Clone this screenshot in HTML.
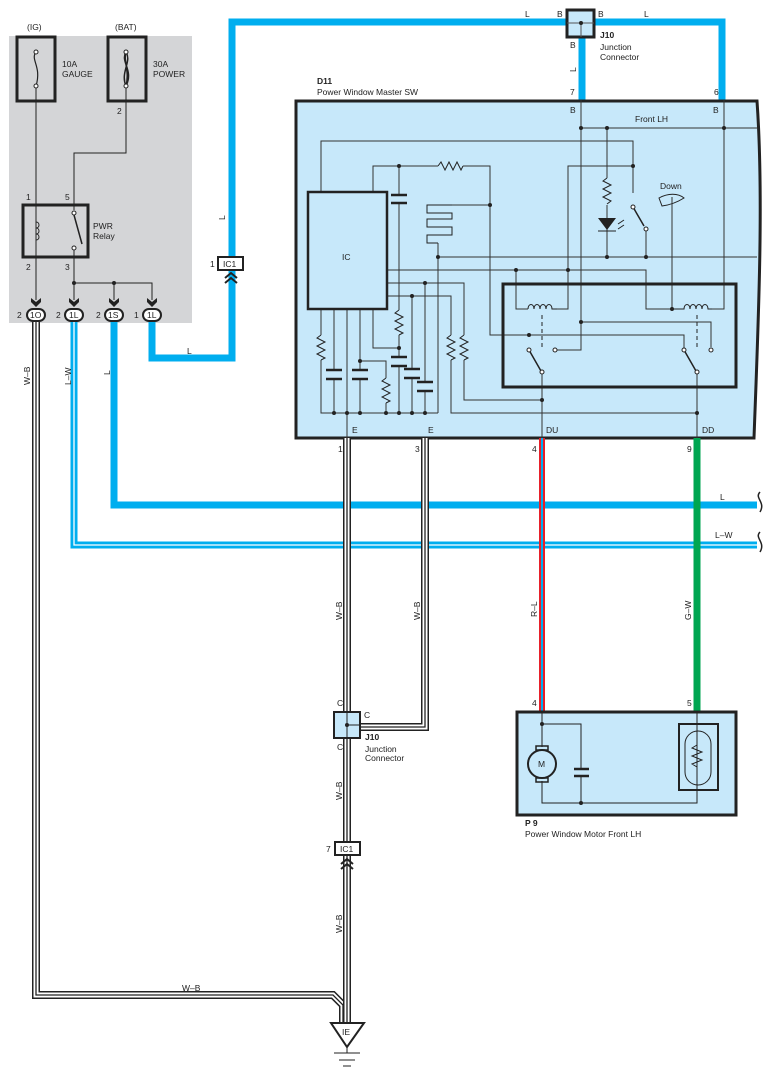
<!DOCTYPE html>
<html><head><meta charset="utf-8"><style>
body{margin:0;background:#fff}
svg{display:block}
text{font-family:"Liberation Sans",sans-serif;font-size:8.5px;fill:#222}
</style></head><body>
<svg width="775" height="1076" viewBox="0 0 775 1076" xmlns="http://www.w3.org/2000/svg">
<rect x="9" y="36" width="183" height="287" fill="#d4d5d7"/>
<!-- fuses -->
<rect x="17" y="37" width="38" height="64" fill="none" stroke="#222" stroke-width="3"/>
<rect x="108" y="37" width="38" height="64" fill="none" stroke="#222" stroke-width="3"/>
<path d="M36 52 C30 60,42 66,36 86" fill="none" stroke="#222" stroke-width="1.2"/>
<path d="M126 52 C120 62,134 70,126 86 M126 52 C123 62,130 70,126 86 M126 52 C132 62,120 72,126 86" fill="none" stroke="#222" stroke-width="1.5"/>
<circle cx="36" cy="52" r="2" fill="#fff" stroke="#222"/><circle cx="36" cy="86" r="2" fill="#fff" stroke="#222"/>
<circle cx="126" cy="52" r="2" fill="#fff" stroke="#222"/><circle cx="126" cy="86" r="2" fill="#fff" stroke="#222"/>
<text x="27" y="30">(IG)</text><text x="115" y="30">(BAT)</text>
<text x="62" y="67">10A</text><text x="62" y="77">GAUGE</text>
<text x="153" y="67">30A</text><text x="153" y="77">POWER</text>
<text x="117" y="114">2</text>
<!-- relay -->
<g fill="none" stroke="#222" stroke-width="1">
<path d="M36 88 V300 M126 88 V153 H74 V210 M74 250 V300 M74 283 H152 V300 M114 283 V300"/>
<path d="M74 215 L82 244" stroke-width="1.5"/>
<path d="M36 222 c4 0 4 6 0 6 c4 0 4 6 0 6 c4 0 4 6 0 6"/>
</g>
<rect x="23" y="205" width="65" height="52" fill="none" stroke="#222" stroke-width="3"/>
<circle cx="74" cy="213" r="2" fill="#fff" stroke="#222"/><circle cx="74" cy="248" r="2" fill="#fff" stroke="#222"/>
<circle cx="74" cy="283" r="2" fill="#222"/><circle cx="114" cy="283" r="2" fill="#222"/>
<text x="26" y="200">1</text><text x="65" y="200">5</text><text x="26" y="270">2</text><text x="65" y="270">3</text>
<text x="93" y="229">PWR</text><text x="93" y="239">Relay</text>
<!-- connector arrows & ovals -->
<g fill="#222">
<path d="M31 298 l5 4 l5 -4 v4 l-5 5 l-5 -5z"/><path d="M69 298 l5 4 l5 -4 v4 l-5 5 l-5 -5z"/>
<path d="M109 298 l5 4 l5 -4 v4 l-5 5 l-5 -5z"/><path d="M147 298 l5 4 l5 -4 v4 l-5 5 l-5 -5z"/>
</g>
<g fill="#fff" stroke="#222" stroke-width="2">
<rect x="27" y="309" width="18" height="12" rx="6"/><rect x="65" y="309" width="18" height="12" rx="6"/>
<rect x="105" y="309" width="18" height="12" rx="6"/><rect x="143" y="309" width="18" height="12" rx="6"/>
</g>
<text x="30" y="318">1O</text><text x="69" y="318">1L</text><text x="108" y="318">1S</text><text x="147" y="318">1L</text>
<text x="17" y="318">2</text><text x="56" y="318">2</text><text x="96" y="318">2</text><text x="134" y="318">1</text>
<!-- W-B wire left -->
<path d="M36 322 V995 H333 L343 1005 V1022" fill="none" stroke="#222" stroke-width="8"/>
<path d="M36 322 V995 H333 L343 1005 V1022" fill="none" stroke="#fff" stroke-width="5"/>
<path d="M36 322 V995 H333 L343 1005 V1022" fill="none" stroke="#222" stroke-width="1.3"/>
<text x="0" y="0" transform="translate(30,385) rotate(-90)">W–B</text>
<text x="182" y="991">W–B</text>
<!-- blue wires -->
<g fill="none" stroke="#00aeef" stroke-width="7">
<path d="M152 322 V358 H232 V22 H567"/>
<path d="M595 22 H722 V100"/>
<path d="M582 38 V100"/>
<path d="M114 322 V505 H757"/>
<path d="M74 322 V545 H757"/>
</g>
<path d="M74 322 V545 H757" fill="none" stroke="#fff" stroke-width="1.3"/>
<path d="M760 492 c-6 6 6 10 0 20" fill="none" stroke="#222" stroke-width="1.5"/>
<path d="M760 532 c-6 6 6 10 0 20" fill="none" stroke="#222" stroke-width="1.5"/>
<text x="720" y="500">L</text><text x="715" y="538">L–W</text>
<text x="0" y="0" transform="translate(71,385) rotate(-90)">L–W</text>
<text x="0" y="0" transform="translate(110,375) rotate(-90)">L</text>
<text x="187" y="354">L</text>
<text x="0" y="0" transform="translate(225,220) rotate(-90)">L</text>
<text x="525" y="17">L</text><text x="644" y="17">L</text>
<text x="557" y="17">B</text><text x="598" y="17">B</text><text x="570" y="48">B</text>
<text x="0" y="0" transform="translate(576,72) rotate(-90)">L</text>
<!-- IC1 upper -->
<rect x="218" y="257" width="25" height="13" fill="#fff" stroke="#222" stroke-width="2"/>
<text x="223" y="267">IC1</text><text x="210" y="267">1</text>
<path d="M225 278 l6 -5 l6 5 M225 283 l6 -5 l6 5" fill="none" stroke="#222" stroke-width="2"/>
<!-- J10 top -->
<rect x="567" y="10" width="27" height="27" fill="#c7e8fa" stroke="#222" stroke-width="3"/>
<path d="M567 23 H594 M581 23 V37" stroke="#555" stroke-width="1"/><circle cx="581" cy="23" r="2" fill="#222"/>
<text x="600" y="38" style="font-weight:bold">J10</text><text x="600" y="50">Junction</text><text x="600" y="60">Connector</text>
<!-- master sw -->
<text x="317" y="84" style="font-weight:bold">D11</text><text x="317" y="95">Power Window Master SW</text>
<path d="M296 101 H757 C764 200,758 330,754 438 H296 Z" fill="#c7e8fa" stroke="#222" stroke-width="3"/>
<text x="570" y="95">7</text><text x="714" y="95">6</text>
<text x="570" y="113">B</text><text x="713" y="113">B</text>
<text x="635" y="122">Front LH</text><text x="660" y="189">Down</text>
<text x="342" y="260">IC</text>
<text x="352" y="433">E</text><text x="428" y="433">E</text><text x="546" y="433">DU</text><text x="702" y="433">DD</text>
<g fill="none" stroke="#333" stroke-width="1">
<path d="M581 100 V350 H557 M581 128 H757 M724 100 V309 H712 M607 128 V178 M607 205 V257"/>
<path d="M321 192 V141 H633 V193 M633 166 H568 V309 H557 M646 229 V257"/>
<path d="M373 192 V166 H438 M463 166 H490 V335 H684 V350 M490 205 H452"/>
<path d="M399 166 V195 M399 204 V310 M399 335 V357 M399 366 V413 M373 309 V348 H399"/>
<path d="M438 243 V413 M438 257 H757 M387 270 H646 V309 H672 M516 270 V309 H528"/>
<path d="M387 283 H464 V335 M464 360 V400 H542 M387 296 H451 V335 M451 360 V413 H697"/>
<path d="M425 283 V382 M425 391 V413 M412 296 V369 M412 378 V413"/>
<path d="M581 322 H711 V347 M672 309 V197 M542 374 V438 M697 374 V438"/>
<path d="M321 309 V335 M321 360 V413 H438 M334 309 V370 M334 379 V413 M347 309 V438 M360 309 V370 M360 379 V413 M360 361 H386 V378 M386 403 V413"/>
</g>
<g fill="none" stroke="#222" stroke-width="1">
<path d="M438 166 l3 -4 l4 8 l4 -8 l4 8 l4 -8 l4 8 l2 -4"/>
<path d="M452 205 H427 V213 H452 V219 H427 V227 H452 V235 H427 V243 H438"/>
<path d="M607 178 l-4 3 l8 4 l-8 4 l8 4 l-8 4 l8 4 l-4 3"/>
<path d="M399 310 l-4 3 l8 4 l-8 4 l8 4 l-8 4 l8 4 l-4 2"/>
<path d="M321 335 l-4 3 l8 4 l-8 4 l8 4 l-8 4 l8 4 l-4 2"/>
<path d="M451 335 l-4 3 l8 4 l-8 4 l8 4 l-8 4 l8 4 l-4 2"/>
<path d="M464 335 l-4 3 l8 4 l-8 4 l8 4 l-8 4 l8 4 l-4 2"/>
<path d="M386 378 l-4 3 l8 4 l-8 4 l8 4 l-8 4 l8 4 l-4 2"/>
<path d="M528 309 c0-6 6-6 6 0 c0-6 6-6 6 0 c0-6 6-6 6 0 c0-6 6-6 6 0 H557"/>
<path d="M672 309 H684 c0-6 6-6 6 0 c0-6 6-6 6 0 c0-6 6-6 6 0 c0-6 6-6 6 0 H712"/>
<path d="M542 315 V348 M697 315 V348" stroke-dasharray="4 3"/>
<path d="M633 207 L644 226 M529 350 L541 371 M684 350 L696 371" stroke-width="1.5"/>
<path d="M659 198 L662 206 C670 205,676 203,684 198 C678 193,668 193,659 198 Z"/>
</g>
<g stroke="#222" stroke-width="2.5">
<path d="M391 195 H407 M391 203 H407 M326 370 H342 M326 379 H342 M352 370 H368 M352 379 H368 M391 357 H407 M391 366 H407 M404 369 H420 M404 378 H420 M417 382 H433 M417 391 H433"/>
</g>
<path d="M598 218 H616 L607 230 Z" fill="#222"/><path d="M598 231 H616" stroke="#222"/>
<path d="M618 224 l6 -4 M618 229 l6 -4" stroke="#222"/>
<rect x="503" y="284" width="233" height="103" fill="none" stroke="#222" stroke-width="3"/>
<g fill="#fff" stroke="#222">
<circle cx="633" cy="207" r="2"/><circle cx="646" cy="229" r="2"/><circle cx="529" cy="350" r="2"/><circle cx="542" cy="372" r="2"/>
<circle cx="555" cy="350" r="2"/><circle cx="684" cy="350" r="2"/><circle cx="697" cy="372" r="2"/><circle cx="711" cy="350" r="2"/>
</g>
<g fill="#222">
<circle cx="581" cy="128" r="2"/><circle cx="607" cy="128" r="2"/><circle cx="724" cy="128" r="2"/><circle cx="633" cy="166" r="2"/>
<circle cx="399" cy="166" r="2"/><circle cx="490" cy="205" r="2"/><circle cx="438" cy="257" r="2"/><circle cx="607" cy="257" r="2"/><circle cx="646" cy="257" r="2"/>
<circle cx="516" cy="270" r="2"/><circle cx="568" cy="270" r="2"/><circle cx="425" cy="283" r="2"/><circle cx="412" cy="296" r="2"/>
<circle cx="672" cy="309" r="2"/><circle cx="581" cy="322" r="2"/><circle cx="529" cy="335" r="2"/><circle cx="399" cy="348" r="2"/><circle cx="360" cy="361" r="2"/>
<circle cx="542" cy="400" r="2"/><circle cx="697" cy="413" r="2"/>
<circle cx="334" cy="413" r="2"/><circle cx="347" cy="413" r="2"/><circle cx="360" cy="413" r="2"/><circle cx="386" cy="413" r="2"/><circle cx="399" cy="413" r="2"/><circle cx="412" cy="413" r="2"/><circle cx="425" cy="413" r="2"/>
</g>
<rect x="308" y="192" width="79" height="117" fill="none" stroke="#222" stroke-width="2.5"/>
<!-- lower W-B wires -->
<g fill="none">
<path d="M347 438 V1022 M425 438 V727 H360" stroke="#222" stroke-width="8"/>
<path d="M347 438 V1022 M425 438 V727 H360" stroke="#fff" stroke-width="5"/>
<path d="M347 438 V1022 M425 438 V727 H360" stroke="#222" stroke-width="1.3"/>
</g>
<text x="338" y="452">1</text><text x="415" y="452">3</text><text x="532" y="452">4</text><text x="687" y="452">9</text>
<text x="0" y="0" transform="translate(342,620) rotate(-90)">W–B</text>
<text x="0" y="0" transform="translate(420,620) rotate(-90)">W–B</text>
<text x="0" y="0" transform="translate(342,800) rotate(-90)">W–B</text>
<text x="0" y="0" transform="translate(342,933) rotate(-90)">W–B</text>
<!-- R-L and G-W -->
<path d="M542 438 V712" stroke="#e8202a" stroke-width="6"/><path d="M542 438 V712" stroke="#00aeef" stroke-width="2"/>
<path d="M697 438 V712" stroke="#00a651" stroke-width="7"/>
<text x="0" y="0" transform="translate(537,617) rotate(-90)">R–L</text>
<text x="0" y="0" transform="translate(691,620) rotate(-90)">G–W</text>
<!-- J10 lower -->
<rect x="334" y="712" width="26" height="26" fill="#c7e8fa" stroke="#222" stroke-width="2"/>
<path d="M347 712 V738 M347 725 H360" stroke="#222"/><circle cx="347" cy="725" r="2" fill="#222"/>
<text x="337" y="706">C</text><text x="364" y="718">C</text><text x="337" y="750">C</text>
<text x="365" y="740" style="font-weight:bold">J10</text><text x="365" y="752">Junction</text><text x="365" y="761">Connector</text>
<!-- IC1 lower -->
<rect x="335" y="842" width="25" height="13" fill="#fff" stroke="#222" stroke-width="2"/>
<text x="340" y="852">IC1</text><text x="326" y="852">7</text>
<path d="M341 864 l6 -5 l6 5 M341 869 l6 -5 l6 5" fill="none" stroke="#222" stroke-width="2"/>
<!-- ground -->
<path d="M331 1023 H364 L347 1047 Z" fill="#fff" stroke="#222" stroke-width="2"/>
<text x="342" y="1035">IE</text>
<path d="M347 1047 V1053 M334 1053 H360 M339 1060 H355 M343 1066 H351" stroke="#222"/>
<!-- P9 -->
<text x="532" y="706">4</text><text x="687" y="706">5</text>
<rect x="517" y="712" width="219" height="103" fill="#c7e8fa" stroke="#222" stroke-width="3"/>
<g fill="none" stroke="#222" stroke-width="1">
<path d="M542 712 V747 M542 781 V803 H697 V712 M542 724 H581 V769 M581 776 V803"/>
<rect x="679" y="724" width="39" height="66" stroke-width="2"/>
<rect x="685" y="731" width="26" height="54" rx="13"/>
<path d="M697 745 l-5 3 l10 4 l-10 4 l10 4 l-10 4 l5 3"/>
</g>
<path d="M574 769 H589 M574 776 H589" stroke="#222" stroke-width="2.5"/>
<circle cx="542" cy="764" r="14" fill="#c7e8fa" stroke="#222" stroke-width="2"/>
<rect x="536" y="746" width="12" height="4" fill="none" stroke="#222" stroke-width="1.5"/>
<rect x="536" y="778" width="12" height="4" fill="none" stroke="#222" stroke-width="1.5"/>
<text x="538" y="767">M</text>
<circle cx="542" cy="724" r="2" fill="#222"/><circle cx="581" cy="803" r="2" fill="#222"/>
<text x="525" y="826" style="font-weight:bold">P 9</text><text x="525" y="837">Power Window Motor Front LH</text>
</svg>
</body></html>
